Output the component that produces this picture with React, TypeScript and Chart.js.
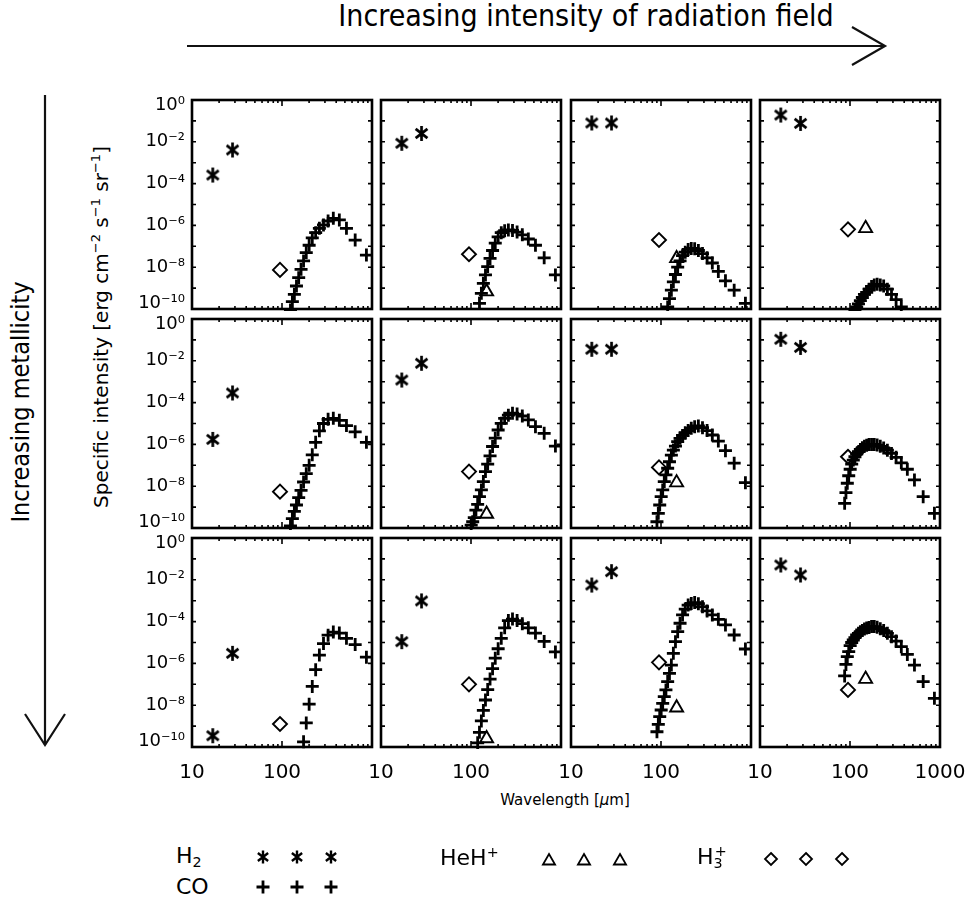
import React, { useEffect, useRef } from 'react';
import { Chart, registerables } from 'chart.js';

Chart.register(...registerables);

// ---------------- DATA ----------------
// CO rotational lines, J = 3 ... 30 (wavelength in micron)
const CO_WAVELENGTH = [866.96, 650.25, 520.23, 433.56, 371.65, 325.23, 289.12, 260.24, 236.61, 216.93,
  200.27, 185.99, 173.63, 162.81, 153.27, 144.78, 137.2, 130.37, 124.19, 118.58,
  113.46, 108.76, 104.44, 100.46, 96.77, 93.35, 90.16, 87.19];
const H2_WAVELENGTH = [17.03, 28.22];
const H3P_WAVELENGTH = 95.0;
const HEHP_WAVELENGTH = 149.1;

// log10 of specific intensity of the CO lines (J = 3 upward), one array per panel
const CO_LOGI_R1C1 = [-7.42, -6.7, -6.14, -5.74, -5.66, -5.79, -5.98, -6.14, -6.35, -6.6, -6.95, -7.3, -7.7, -8.1, -8.5, -8.9, -9.3, -9.65, -10.05];
const CO_LOGI_R1C2 = [-8.37, -7.55, -6.95, -6.65, -6.45, -6.32, -6.24, -6.22, -6.25, -6.35, -6.55, -6.85, -7.2, -7.58, -7.97, -8.37, -8.77, -9.25, -9.73];
const CO_LOGI_R1C3 = [-9.73, -9.1, -8.65, -8.2, -7.8, -7.55, -7.35, -7.2, -7.12, -7.1, -7.15, -7.28, -7.45, -7.7, -8.0, -8.35, -8.7, -9.1, -9.5, -9.9];
const CO_LOGI_R1C4 = [null, null, null, null, -9.9, -9.55, -9.3, -9.05, -8.9, -8.85, -8.82, -8.85, -8.92, -9.05, -9.2, -9.3, -9.45, -9.6, -9.75, -9.9, -10.05];
const CO_LOGI_R2C1 = [-5.9, -5.4, -5.1, -4.85, -4.75, -4.8, -5.0, -5.35, -5.9, -6.5, -7.0, -7.4, -7.8, -8.2, -8.55, -8.9, -9.2, -9.55, -9.9];
const CO_LOGI_R2C2 = [-6.08, -5.47, -5.15, -4.83, -4.64, -4.55, -4.51, -4.6, -4.75, -4.99, -5.31, -5.7, -6.1, -6.55, -6.94, -7.3, -7.78, -8.18, -8.5, -8.87, -9.14, -9.5, -9.7, -9.86];
const CO_LOGI_R2C3 = [-7.83, -6.9, -6.3, -5.84, -5.55, -5.34, -5.2, -5.12, -5.15, -5.23, -5.34, -5.44, -5.57, -5.71, -5.87, -6.08, -6.27, -6.51, -6.83, -7.14, -7.46, -7.78, -8.18, -8.5, -8.9, -9.3, -9.7];
const CO_LOGI_R2C4 = [-9.3, -8.5, -7.7, -7.19, -6.88, -6.62, -6.43, -6.28, -6.17, -6.09, -6.03, -6.0, -6.0, -6.01, -6.04, -6.09, -6.16, -6.24, -6.35, -6.46, -6.59, -6.75, -6.94, -7.19, -7.5, -7.86, -8.31, -8.82];
const CO_LOGI_R3C1 = [-5.7, -5.1, -4.8, -4.55, -4.5, -4.65, -5.05, -5.6, -6.3, -7.1, -7.95, -8.85, -9.75];
const CO_LOGI_R3C2 = [-5.45, -4.95, -4.55, -4.3, -4.1, -3.95, -3.88, -3.95, -4.3, -4.8, -5.3, -5.75, -6.25, -6.75, -7.25, -7.75, -8.25, -8.75, -9.3, -9.8];
const CO_LOGI_R3C3 = [-5.31, -4.64, -4.16, -3.89, -3.68, -3.49, -3.29, -3.14, -3.09, -3.13, -3.21, -3.4, -3.68, -4.08, -4.48, -4.96, -5.52, -6.08, -6.48, -6.87, -7.27, -7.59, -7.91, -8.23, -8.55, -8.92, -9.27];
const CO_LOGI_R3C4 = [-7.67, -6.87, -6.08, -5.57, -5.2, -4.93, -4.72, -4.56, -4.43, -4.34, -4.27, -4.24, -4.24, -4.28, -4.31, -4.35, -4.42, -4.48, -4.56, -4.64, -4.77, -4.88, -5.0, -5.15, -5.44, -5.68, -6.05, -6.6];

const CO_LOGI = [
  CO_LOGI_R1C1, CO_LOGI_R1C2, CO_LOGI_R1C3, CO_LOGI_R1C4,
  CO_LOGI_R2C1, CO_LOGI_R2C2, CO_LOGI_R2C3, CO_LOGI_R2C4,
  CO_LOGI_R3C1, CO_LOGI_R3C2, CO_LOGI_R3C3, CO_LOGI_R3C4,
];
// H2 S(1) 17 um and S(0) 28 um, per panel (row-major)
const H2_LOGI = [
  [-3.59, -2.39], [-2.07, -1.6], [-1.1, -1.1], [-0.72, -1.12],
  [-5.76, -3.54], [-2.92, -2.12], [-1.45, -1.45], [-0.97, -1.36],
  [-9.46, -5.52], [-4.96, -3.01], [-2.25, -1.61], [-1.29, -1.77],
];
const H3P_LOGI = [-8.13, -7.38, -6.7, -6.19, -8.26, -7.3, -7.1, -6.59, -8.9, -7.0, -5.95, -7.27];
const HEHP_LOGI = [null, -9.17, -7.58, -6.14, null, -9.33, -7.83, null, null, -9.59, -8.12, -6.75];

const Y_TICK_VALUES = [1, 1e-1, 1e-2, 1e-3, 1e-4, 1e-5, 1e-6, 1e-7, 1e-8, 1e-9, 1e-10];
const Y_LABEL_VALUES = [1, 1e-2, 1e-4, 1e-6, 1e-8, 1e-10];
const Y_LABELS = ['10⁰', '10⁻²', '10⁻⁴', '10⁻⁶', '10⁻⁸', '10⁻¹⁰'];
const X_MINOR_TICKS = [20, 30, 40, 50, 60, 70, 80, 90, 200, 300, 400, 500, 600, 700, 800, 900];
const X_LABEL_VALUES = [10, 100, 1000];
const X_LABELS = ['10', '100', '1000'];

// ---------------- LAYOUT ----------------
const PANEL_LEFT = [192, 381, 571, 760];
const PANEL_TOP = [100, 319, 538];
const PANEL_W = 180;
const PANEL_H = 209;
const FONT = "'DejaVu Sans', 'Liberation Sans', sans-serif";
const NARROW = "'DejaVu Sans Condensed', 'Liberation Sans Narrow', 'DejaVu Sans', sans-serif";

function drawAsterisk(ctx: CanvasRenderingContext2D, x: number, y: number, r: number, lw: number) {
  ctx.save();
  ctx.strokeStyle = '#000';
  ctx.lineWidth = lw;
  ctx.beginPath();
  for (const ang of [90, 38, -38]) {
    const a = (ang * Math.PI) / 180;
    ctx.moveTo(x - r * Math.cos(a), y - r * Math.sin(a));
    ctx.lineTo(x + r * Math.cos(a), y + r * Math.sin(a));
  }
  ctx.stroke();
  ctx.restore();
}
function drawPlus(ctx: CanvasRenderingContext2D, x: number, y: number, r: number, lw: number) {
  ctx.save();
  ctx.strokeStyle = '#000';
  ctx.lineWidth = lw;
  ctx.beginPath();
  ctx.moveTo(x - r, y); ctx.lineTo(x + r, y);
  ctx.moveTo(x, y - r); ctx.lineTo(x, y + r);
  ctx.stroke();
  ctx.restore();
}
function drawTriangle(ctx: CanvasRenderingContext2D, x: number, y: number, r: number, lw: number) {
  ctx.save();
  ctx.strokeStyle = '#000';
  ctx.lineWidth = lw;
  ctx.beginPath();
  for (let i = 0; i < 3; i++) {
    const a = (i * 2 * Math.PI) / 3;
    const px = x + Math.sin(a) * r, py = y - Math.cos(a) * r;
    if (i === 0) ctx.moveTo(px, py); else ctx.lineTo(px, py);
  }
  ctx.closePath();
  ctx.stroke();
  ctx.restore();
}
function drawDiamond(ctx: CanvasRenderingContext2D, x: number, y: number, r: number, lw: number) {
  ctx.save();
  ctx.strokeStyle = '#000';
  ctx.lineWidth = lw;
  ctx.beginPath();
  ctx.moveTo(x, y - r); ctx.lineTo(x + r, y); ctx.lineTo(x, y + r); ctx.lineTo(x - r, y);
  ctx.closePath();
  ctx.stroke();
  ctx.restore();
}

let asteriskImg: HTMLCanvasElement | null = null;
function getAsterisk() {
  if (!asteriskImg) {
    const c = document.createElement('canvas');
    c.width = 17; c.height = 17;
    const ctx = c.getContext('2d')!;
    drawAsterisk(ctx, 8.5, 8.5, 7.5, 2.7);
    asteriskImg = c;
  }
  return asteriskImg;
}

const framePlugin = {
  id: 'idlFrame',
  afterDraw(chart: any) {
    const { ctx, chartArea: a, scales } = chart;
    const xs = scales.x, ys = scales.y;
    ctx.save();
    ctx.strokeStyle = '#000';
    ctx.lineWidth = 1.6;
    ctx.beginPath();
    for (const v of X_MINOR_TICKS) {
      const px = xs.getPixelForValue(v);
      ctx.moveTo(px, a.bottom); ctx.lineTo(px, a.bottom - 3);
      ctx.moveTo(px, a.top); ctx.lineTo(px, a.top + 3);
    }
    const px100 = xs.getPixelForValue(100);
    ctx.moveTo(px100, a.bottom); ctx.lineTo(px100, a.bottom - 6);
    ctx.moveTo(px100, a.top); ctx.lineTo(px100, a.top + 6);
    for (const v of Y_TICK_VALUES) {
      const py = ys.getPixelForValue(v);
      ctx.moveTo(a.left, py); ctx.lineTo(a.left + 4, py);
      ctx.moveTo(a.right, py); ctx.lineTo(a.right - 4, py);
    }
    ctx.stroke();
    ctx.lineWidth = 2.6;
    ctx.strokeRect(a.left, a.top, a.right - a.left, a.bottom - a.top);
    ctx.restore();
  },
};

function Panel({ row, col }: { row: number; col: number }) {
  const ref = useRef<HTMLCanvasElement>(null);
  const idx = row * 4 + col;
  const isLeft = col === 0;
  const isBottom = row === 2;
  const isLast = col === 3;
  const padL = isLeft ? 72 : 16;
  const padR = 32;
  const padT = 16;
  const padB = isBottom ? 46 : 16;
  const w = PANEL_W + padL + padR;
  const h = PANEL_H + padT + padB;

  useEffect(() => {
    const co = CO_LOGI[idx]
      .map((v, i) => (v === null ? null : { x: CO_WAVELENGTH[i], y: Math.pow(10, v as number) }))
      .filter(Boolean);
    const h2 = H2_LOGI[idx].map((v, i) => ({ x: H2_WAVELENGTH[i], y: Math.pow(10, v) }));
    const h3 = [{ x: H3P_WAVELENGTH, y: Math.pow(10, H3P_LOGI[idx]) }];
    const hv = HEHP_LOGI[idx];
    const heh = hv === null ? [] : [{ x: HEHP_WAVELENGTH, y: Math.pow(10, hv) }];
    const xLabelVals = isLast ? X_LABEL_VALUES : X_LABEL_VALUES.slice(0, 2);

    const chart = new Chart(ref.current as HTMLCanvasElement, {
      type: 'scatter',
      data: {
        datasets: [
          { label: 'CO', data: co as any, pointStyle: 'cross', pointRadius: 6.5, borderColor: '#000', backgroundColor: '#000', borderWidth: 2.8, clip: 2 } as any,
          { label: 'H2', data: h2, pointStyle: getAsterisk(), pointRadius: 7, borderColor: '#000', clip: 2 } as any,
          { label: 'HeH+', data: heh, pointStyle: 'triangle', pointRadius: 7.5, borderColor: '#000', backgroundColor: 'rgba(0,0,0,0)', borderWidth: 1.9, clip: 2 } as any,
          { label: 'H3+', data: h3, pointStyle: 'rectRot', pointRadius: 7, borderColor: '#000', backgroundColor: 'rgba(0,0,0,0)', borderWidth: 1.9, clip: 2 } as any,
        ],
      },
      options: {
        responsive: false,
        animation: false,
        events: [],
        layout: { padding: { left: isLeft ? 0 : padL, right: padR, top: padT, bottom: isBottom ? 0 : padB } },
        plugins: { legend: { display: false }, tooltip: { enabled: false } },
        scales: {
          x: {
            type: 'logarithmic',
            min: 10,
            max: 1000,
            display: isBottom,
            grid: { display: false, drawTicks: false },
            border: { display: false },
            afterBuildTicks: (s: any) => { s.ticks = xLabelVals.map((v) => ({ value: v })); },
            afterFit: (s: any) => {
              if (isBottom) { s.height = padB; s.paddingLeft = 0; s.paddingRight = 0; }
            },
            ticks: {
              autoSkip: false,
              maxRotation: 0,
              padding: 14,
              color: '#000',
              font: { family: FONT, size: 20 },
              callback: (v: any) => {
                const i = X_LABEL_VALUES.findIndex((t) => Math.abs(Math.log10(t) - Math.log10(Number(v))) < 1e-6);
                return i >= 0 ? X_LABELS[i] : '';
              },
            },
          },
          y: {
            type: 'logarithmic',
            min: 1e-10,
            max: 1,
            display: isLeft,
            grid: { display: false, drawTicks: false },
            border: { display: false },
            afterBuildTicks: (s: any) => { s.ticks = Y_LABEL_VALUES.map((v) => ({ value: v })); },
            afterFit: (s: any) => {
              if (isLeft) { s.width = padL; s.paddingTop = 0; s.paddingBottom = 0; }
            },
            ticks: {
              autoSkip: false,
              padding: 7,
              color: '#000',
              font: { family: FONT, size: 18, lineHeight: 0.6 },
              callback: (v: any) => {
                const i = Y_LABEL_VALUES.findIndex((t) => Math.abs(Math.log10(t) - Math.log10(Number(v))) < 1e-6);
                if (i < 0) return '';
                // IDL nudges the end labels inward from the frame corners
                if (i === 0) return ['', Y_LABELS[i]];
                if (i === Y_LABELS.length - 1) return [Y_LABELS[i], ''];
                return Y_LABELS[i];
              },
            },
          },
        },
      } as any,
      plugins: [framePlugin],
    });
    return () => chart.destroy();
  }, []);

  return (
    <canvas
      ref={ref}
      width={w}
      height={h}
      style={{ position: 'absolute', left: PANEL_LEFT[col] - padL, top: PANEL_TOP[row] - padT, width: w, height: h }}
    />
  );
}

const LEG_X = 240;
const LEG_Y = 835;
function LegendMarks() {
  const ref = useRef<HTMLCanvasElement>(null);
  useEffect(() => {
    const ctx = (ref.current as HTMLCanvasElement).getContext('2d')!;
    ctx.clearRect(0, 0, 640, 70);
    for (const x of [263, 297, 331]) drawAsterisk(ctx, x - LEG_X, 857 - LEG_Y, 6.5, 2.4);
    for (const x of [263, 297, 331]) drawPlus(ctx, x - LEG_X, 887 - LEG_Y, 6.5, 2.8);
    for (const x of [549, 584, 620]) drawTriangle(ctx, x - LEG_X, 861 - LEG_Y, 7, 1.8);
    for (const x of [771, 806, 842]) drawDiamond(ctx, x - LEG_X, 859 - LEG_Y, 6, 1.8);
  }, []);
  return <canvas ref={ref} width={640} height={70} style={{ position: 'absolute', left: LEG_X, top: LEG_Y, width: 640, height: 70 }} />;
}

const textBase: React.CSSProperties = { position: 'absolute', whiteSpace: 'nowrap', color: '#000', lineHeight: 1 };

export default function App() {
  const panels = [];
  for (let r = 0; r < 3; r++) for (let c = 0; c < 4; c++) panels.push(<Panel key={`${r}-${c}`} row={r} col={c} />);
  const supStyle: React.CSSProperties = { fontSize: '65%', verticalAlign: '0.55em' };
  const subStyle: React.CSSProperties = { fontSize: '65%', verticalAlign: '-0.3em' };
  return (
    <div style={{ position: 'absolute', left: 0, top: 0, width: 969, height: 907, background: '#fff', overflow: 'hidden', fontFamily: FONT }}>
      {/* top annotation */}
      <div style={{ ...textBase, left: 586, top: 16, transform: 'translate(-50%,-50%)', fontFamily: NARROW, fontSize: 30 }}>
        Increasing intensity of radiation field
      </div>
      {/* left annotation */}
      <div style={{ ...textBase, left: 20, top: 402, transform: 'translate(-50%,-50%) rotate(-90deg)', fontFamily: NARROW, fontSize: 25 }}>
        Increasing metallicity
      </div>
      <svg width={969} height={907} style={{ position: 'absolute', left: 0, top: 0 }}>
        <g stroke="#111" strokeWidth={2.2} fill="none">
          <line x1={187} y1={46} x2={885} y2={46} />
          <polyline points="852,27 885,46 852,65" />
          <line x1={45} y1={95} x2={45} y2={745} />
          <polyline points="25,714 45,745 65,714" />
        </g>
      </svg>
      {/* axis titles */}
      <div style={{ ...textBase, left: 100, top: 327, transform: 'translate(-50%,-50%) rotate(-90deg)', fontSize: 20 }}>
        Specific intensity [erg cm<span style={supStyle}>−2</span> s<span style={supStyle}>−1</span> sr<span style={supStyle}>−1</span>]
      </div>
      <div style={{ ...textBase, left: 565, top: 800, transform: 'translate(-50%,-50%)', fontSize: 15 }}>
        Wavelength [<i>μ</i>m]
      </div>
      {panels}
      {/* legend */}
      <LegendMarks />
      <div style={{ ...textBase, left: 176, top: 857, transform: 'translateY(-50%)', fontSize: 22 }}>
        H<span style={subStyle}>2</span>
      </div>
      <div style={{ ...textBase, left: 176, top: 887, transform: 'translateY(-50%)', fontSize: 22 }}>CO</div>
      <div style={{ ...textBase, left: 440, top: 857, transform: 'translateY(-50%)', fontSize: 22 }}>
        HeH<span style={supStyle}>+</span>
      </div>
      <div style={{ ...textBase, left: 697, top: 857, transform: 'translateY(-50%)', fontSize: 22 }}>
        H<span style={subStyle}>3</span><span style={{ ...supStyle, marginLeft: -8 }}>+</span>
      </div>
    </div>
  );
}
